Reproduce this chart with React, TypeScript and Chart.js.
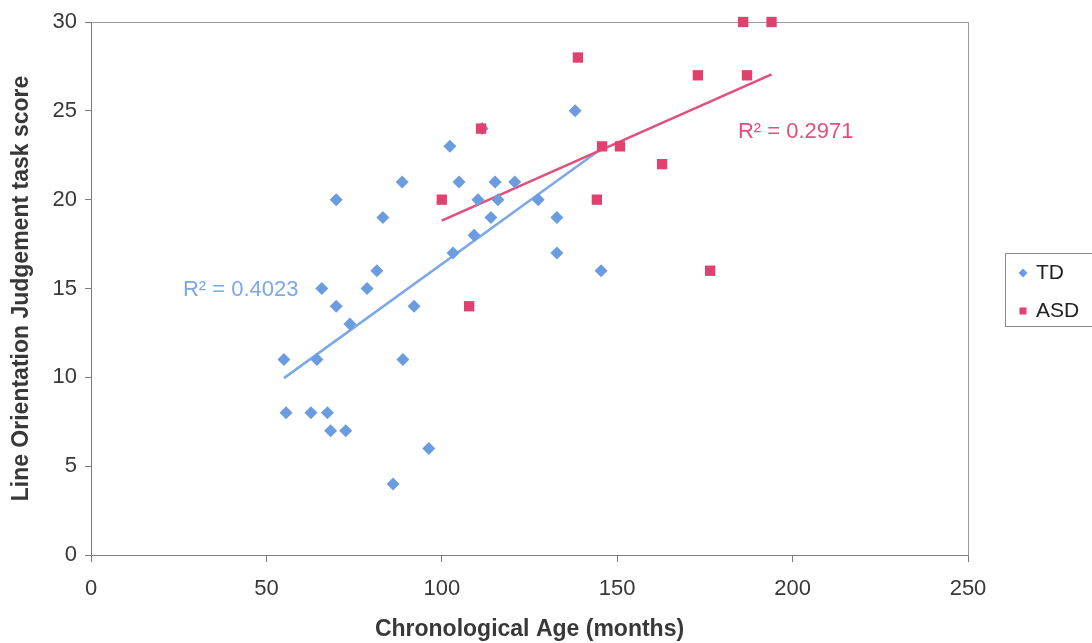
import React, { useEffect, useRef } from "react";
import { Chart, registerables } from "chart.js";

Chart.register(...registerables);

// ---- Data ----
const tdAge = [55, 55.6, 62.7, 67.4, 64.4, 65.8, 68.3, 72.6, 69.9, 69.9, 73.8, 78.7, 81.5, 83.2, 86.1, 88.7, 88.9, 92.1, 96.3, 102.3, 103.2, 104.9, 109.2, 110.3, 111.5, 114, 115.2, 116, 120.8, 127.5, 132.8, 132.8, 138, 145.4];
const tdScore = [11, 8, 8, 8, 11, 15, 7, 7, 20, 14, 13, 15, 16, 19, 4, 21, 11, 14, 6, 23, 17, 21, 18, 20, 24, 19, 21, 20, 21, 20, 19, 17, 25, 16];
const asdAge = [100, 107.8, 111.2, 138.8, 144.2, 145.7, 150.8, 162.8, 173, 176.5, 185.9, 187, 194];
const asdScore = [20, 14, 24, 28, 20, 23, 23, 22, 27, 16, 30, 27, 30];

const seriesNames = ["TD", "ASD"];
const r2Labels = ["R² = 0.4023", "R² = 0.2971"];
const xTicks = [0, 50, 100, 150, 200, 250];
const yTicks = [0, 5, 10, 15, 20, 25, 30];

const xTitle = "Chronological Age (months)";
const yTitle = "Line Orientation Judgement task score";

const TD_COLOR = "#6c9ce0";
const ASD_COLOR = "#e0416f";
const TD_LINE = "#7ba8e6";
const ASD_LINE = "#e14f7b";
const TEXT = "#383838";
const FONT = "'Liberation Sans', Arial, sans-serif";

function trend(xs: number[], ys: number[]) {
  const n = xs.length;
  const mx = xs.reduce((a, b) => a + b, 0) / n;
  const my = ys.reduce((a, b) => a + b, 0) / n;
  let sxy = 0, sxx = 0;
  for (let i = 0; i < n; i++) {
    sxy += (xs[i] - mx) * (ys[i] - my);
    sxx += (xs[i] - mx) ** 2;
  }
  const b = sxy / sxx;
  const a = my - b * mx;
  const lo = Math.min(...xs);
  const hi = Math.max(...xs);
  return [{ x: lo, y: a + b * lo }, { x: hi, y: a + b * hi }];
}

const pts = (xs: number[], ys: number[]) => xs.map((x, i) => ({ x, y: ys[i] }));

const decorPlugin = {
  id: "decor",
  beforeDatasetsDraw(chart: any) {
    const { ctx, chartArea } = chart;
    ctx.save();
    // plot-area border (top & right)
    ctx.strokeStyle = "#9a9a9a";
    ctx.lineWidth = 1;
    ctx.beginPath();
    ctx.moveTo(Math.round(chartArea.left) + 0.5, Math.round(chartArea.top) + 0.5);
    ctx.lineTo(Math.round(chartArea.right) + 0.5, Math.round(chartArea.top) + 0.5);
    ctx.lineTo(Math.round(chartArea.right) + 0.5, Math.round(chartArea.bottom) + 0.5);
    ctx.stroke();
    ctx.restore();
  },
  afterDatasetsDraw(chart: any) {
    const { ctx, scales } = chart;
    ctx.save();
    // R² labels anchored in data units
    ctx.font = `22px ${FONT}`;
    ctx.textBaseline = "middle";
    ctx.textAlign = "left";
    ctx.fillStyle = TD_LINE;
    ctx.fillText(r2Labels[0], scales.x.getPixelForValue(26.2), scales.y.getPixelForValue(14.9));
    ctx.fillStyle = ASD_LINE;
    ctx.fillText(r2Labels[1], scales.x.getPixelForValue(184.4), scales.y.getPixelForValue(23.8));
    ctx.restore();
  },
  afterDraw(chart: any) {
    const { ctx } = chart;
    ctx.save();
    // legend box
    ctx.strokeStyle = "#8a8a8a";
    ctx.lineWidth = 1;
    ctx.strokeRect(1005.5, 253.5, 110, 73);
    // TD marker (diamond)
    ctx.fillStyle = TD_COLOR;
    ctx.beginPath();
    ctx.moveTo(1023, 268.5);
    ctx.lineTo(1027.5, 273);
    ctx.lineTo(1023, 277.5);
    ctx.lineTo(1018.5, 273);
    ctx.closePath();
    ctx.fill();
    // ASD marker (square)
    ctx.fillStyle = ASD_COLOR;
    ctx.fillRect(1019.5, 307.5, 7, 7);
    ctx.fillStyle = "#222";
    ctx.font = `21px ${FONT}`;
    ctx.textBaseline = "middle";
    ctx.textAlign = "left";
    ctx.fillText(seriesNames[0], 1036, 273);
    ctx.fillText(seriesNames[1], 1036, 311);
    ctx.restore();
  },
};

export default function App() {
  const ref = useRef<HTMLCanvasElement | null>(null);

  useEffect(() => {
    document.body.style.margin = "0";
    const canvas = ref.current;
    if (!canvas) return;
    const chart = new Chart(canvas, {
      type: "scatter",
      data: {
        datasets: [
          {
            label: seriesNames[0],
            data: pts(tdAge, tdScore),
            backgroundColor: TD_COLOR,
            borderColor: TD_COLOR,
            borderWidth: 0,
            pointStyle: "rectRot",
            pointRadius: 6.5,
            order: 2,
            clip: false,
          } as any,
          {
            label: seriesNames[1],
            data: pts(asdAge, asdScore),
            backgroundColor: ASD_COLOR,
            borderColor: ASD_COLOR,
            borderWidth: 0,
            pointStyle: "rect",
            pointRadius: 7.3,
            order: 1,
            clip: false,
          } as any,
          {
            type: "line",
            label: "TD trend",
            data: trend(tdAge, tdScore),
            borderColor: TD_LINE,
            borderWidth: 2.5,
            pointRadius: 0,
            fill: false,
            order: 4,
          } as any,
          {
            type: "line",
            label: "ASD trend",
            data: trend(asdAge, asdScore),
            borderColor: ASD_LINE,
            borderWidth: 2.5,
            pointRadius: 0,
            fill: false,
            order: 3,
          } as any,
        ],
      },
      options: {
        responsive: false,
        animation: false,
        events: [],
        layout: { padding: { left: 0, top: 22, right: 124, bottom: 0 } },
        plugins: {
          legend: { display: false },
          tooltip: { enabled: false },
        },
        scales: {
          x: {
            type: "linear",
            min: 0,
            max: 250,
            afterFit: (s: any) => { s.height = 88; },
            afterBuildTicks: (s: any) => { s.ticks = xTicks.map((v) => ({ value: v })); },
            ticks: {
              color: TEXT,
              font: { family: FONT, size: 22 },
              padding: 14,
            },
            grid: {
              display: true,
              drawOnChartArea: false,
              drawTicks: true,
              tickLength: 7,
              color: "#7a7a7a",
            },
            border: { display: true, color: "#7a7a7a", width: 1 },
            title: {
              display: true,
              text: xTitle,
              color: TEXT,
              font: { family: FONT, size: 23, weight: "bold", lineHeight: 1.2 },
              padding: { top: 0, bottom: 0 },
            },
          },
          y: {
            type: "linear",
            min: 0,
            max: 30,
            afterFit: (s: any) => { s.width = 91; },
            afterBuildTicks: (s: any) => { s.ticks = yTicks.map((v) => ({ value: v })); },
            ticks: {
              color: TEXT,
              font: { family: FONT, size: 22 },
              padding: 8,
            },
            grid: {
              display: true,
              drawOnChartArea: false,
              drawTicks: true,
              tickLength: 6,
              color: "#7a7a7a",
            },
            border: { display: true, color: "#7a7a7a", width: 1 },
            title: {
              display: true,
              text: yTitle,
              color: TEXT,
              font: { family: FONT, size: 23, weight: "bold", lineHeight: 1.2 },
              padding: { top: 8, bottom: 0 },
            },
          },
        },
      },
      plugins: [decorPlugin],
    });
    return () => chart.destroy();
  }, []);

  return (
    <div style={{ position: "fixed", left: 0, top: 0, width: 1092, height: 643, background: "#fff" }}>
      <canvas ref={ref} width={1092} height={643} style={{ display: "block", width: 1092, height: 643 }} />
    </div>
  );
}
